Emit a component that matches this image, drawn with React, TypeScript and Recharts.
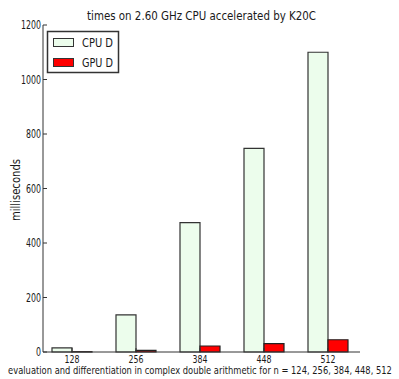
import { BarChart, Bar, XAxis, YAxis } from "recharts";

const sizes = ["128", "256", "384", "448", "512"];
const cpuD = [15, 136, 475, 747, 1100];
const gpuD = [1, 6, 22, 31, 45];
const yTicks = [0, 200, 400, 600, 800, 1000, 1200];

const data = sizes.map((n, i) => ({ n, cpu: cpuD[i], gpu: gpuD[i] }));

const font = "'DejaVu Sans', sans-serif";
const ink = "#1a1a1a";

// matplotlib output was squeezed sideways, so text is fitted with textLength
function YTick(props: any) {
  const { x, y, payload } = props;
  const s = String(payload.value);
  return (
    <text x={x} y={y} dy={4} textAnchor="end" fill={ink} fontSize={11.5} fontFamily={font}
      textLength={s.length * 5} lengthAdjust="spacingAndGlyphs">
      {s}
    </text>
  );
}

function XTick(props: any) {
  const { x, y, payload } = props;
  const s = String(payload.value);
  return (
    <text x={x} y={y} dy={9} textAnchor="middle" fill={ink} fontSize={10.5} fontFamily={font}
      textLength={s.length * 5} lengthAdjust="spacingAndGlyphs">
      {s}
    </text>
  );
}

function Overlay() {
  const legend = [
    { label: "CPU D", fill: "#ecfdec", y: 38 },
    { label: "GPU D", fill: "#ff0000", y: 58 },
  ];
  return (
    <svg width={399} height={379} style={{ position: "absolute", left: 0, top: 0, pointerEvents: "none" }}>
      <text x={201.5} y={20} textAnchor="middle" fontSize={12.5} fontFamily={font} fill={ink}
        textLength={229} lengthAdjust="spacingAndGlyphs">
        times on 2.60 GHz CPU accelerated by K20C
      </text>
      <text x={0} y={0} transform="translate(200,374) scale(0.76,1)" textAnchor="middle" fontSize={11}
        fontFamily={font} fill={ink}>
        evaluation and differentiation in complex double arithmetic for n = 124, 256, 384, 448, 512
      </text>
      <text x={0} y={0} transform="translate(20,190) rotate(-90)" textAnchor="middle" fontSize={12}
        fontFamily={font} fill={ink} textLength={62} lengthAdjust="spacingAndGlyphs">
        milliseconds
      </text>
      <rect x={47.5} y={31.5} width={71} height={41} fill="#fff" stroke="#333" strokeWidth={1.5} />
      {legend.map((it) => (
        <g key={it.label}>
          <rect x={53.5} y={it.y + 0.5} width={20} height={8} fill={it.fill} stroke="#333" strokeWidth={1} />
          <text x={82} y={it.y + 9} fontSize={12.5} fontFamily={font} fill={ink}
            textLength={31} lengthAdjust="spacingAndGlyphs">
            {it.label}
          </text>
        </g>
      ))}
    </svg>
  );
}

export default function App() {
  return (
    <div style={{ position: "absolute", left: 0, top: 0, width: 399, height: 379, background: "#fff" }}>
      <BarChart
        width={399}
        height={379}
        data={data}
        margin={{ top: 25, right: 39, left: 0, bottom: 0 }}
        barCategoryGap={12}
        barGap={0}
      >
        <XAxis
          dataKey="n"
          height={27}
          padding={{ left: -3, right: 0 }}
          stroke="#333"
          tickSize={-4}
          tickMargin={6}
          tick={<XTick />}
        />
        <XAxis
          xAxisId="top"
          dataKey="n"
          orientation="top"
          height={0}
          padding={{ left: -3, right: 0 }}
          stroke="#333"
          tickSize={-4}
          tick={() => <g />}
        />
        <YAxis
          width={43}
          domain={[0, 1200]}
          ticks={yTicks}
          stroke="#333"
          tickSize={-4}
          tickMargin={6}
          tick={<YTick />}
        />
        <YAxis
          yAxisId="right"
          orientation="right"
          width={0}
          domain={[0, 1200]}
          ticks={yTicks}
          stroke="#333"
          tickSize={-4}
          tick={() => <g />}
        />
        <Bar dataKey="cpu" name="CPU D" fill="#ecfdec" stroke="#333" strokeWidth={1.2} isAnimationActive={false} />
        <Bar dataKey="gpu" name="GPU D" fill="#ff0000" stroke="#222" strokeWidth={1.2} isAnimationActive={false} />
      </BarChart>
      <Overlay />
    </div>
  );
}
